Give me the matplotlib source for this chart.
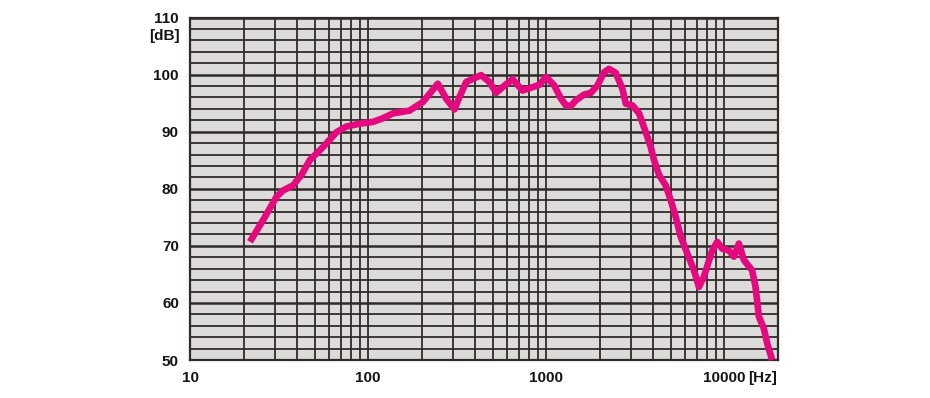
import matplotlib
matplotlib.use("Agg")
import matplotlib.pyplot as plt
from matplotlib.ticker import FixedLocator, NullFormatter, FixedFormatter

plt.rcParams['font.family'] = ['Liberation Sans', 'DejaVu Sans']

freq_hz = [21.7, 25.7, 30.6, 33.3, 37.9, 42.2, 47.0, 55.8, 66.4, 75.5, 89.6, 106, 120,
           138, 171, 203, 246, 274, 305, 326, 355, 431, 480, 523, 569, 647, 736,
           838, 914, 996, 1109, 1209, 1289, 1375, 1467, 1633, 1780, 1938, 2113,
           2253, 2456, 2676, 2795, 3047, 3321, 3620, 3861, 4029, 4300, 4684, 4995,
           5329, 5685, 6188, 6748, 7194, 7674, 8545, 9116, 9727, 10600, 11310,
           12060, 12870, 14320, 14960, 15620, 16660, 17390, 18550]
spl_db = [70.7, 74.5, 78.6, 79.7, 80.6, 82.4, 85.0, 87.3, 89.9, 90.9, 91.4, 91.7, 92.3,
          93.2, 93.7, 95.2, 98.4, 95.8, 93.9, 96.1, 98.7, 99.9, 98.7, 96.8, 97.8,
          99.2, 97.2, 97.8, 98.2, 99.6, 98.1, 95.8, 94.6, 94.5, 95.5, 96.5, 96.8,
          98.1, 100.4, 101.0, 100.3, 97.5, 94.9, 94.6, 93.2, 89.9, 87.3, 85.0, 82.4,
          80.6, 78.0, 75.1, 71.6, 68.7, 65.7, 62.8, 64.6, 69.2, 70.7, 69.5, 69.2,
          68.1, 70.4, 67.5, 65.7, 62.8, 57.6, 55.5, 52.9, 50.0]

x_major = [10, 100, 1000, 10000]
x_major_labels = ["10", "100", "1000", "10000"]
y_major = [50, 60, 70, 80, 90, 100, 110]

FS = 11
TXT = dict(fontsize=FS, color='#151515', fontweight='bold')

fig = plt.figure(figsize=(9.3, 3.98), dpi=100)
ax = fig.add_axes([190/930, 1 - 360/398, (778-190)/930, (360-17.5)/398])
ax.set_facecolor('#dddbd9')
ax.set_xscale('log')
ax.set_xlim(10, 20000)
ax.set_ylim(50, 110)

minors = [m * 10**e for e in range(1, 5) for m in range(2, 10) if m * 10**e < 20000]
for xv in minors + x_major:
    ax.axvline(xv, color='#2f2b29', lw=1.3, zorder=1)
for yv in range(50, 111, 2):
    ax.axhline(yv, color='#2f2b29', lw=1.8 if yv % 10 == 0 else 1.3, zorder=1)

ax.plot(freq_hz, spl_db, color='#e5097f', lw=4.8, solid_capstyle='butt',
        solid_joinstyle='round', zorder=3, clip_on=False)

ax.xaxis.set_major_locator(FixedLocator(x_major))
ax.xaxis.set_major_formatter(FixedFormatter(x_major_labels))
ax.xaxis.set_minor_locator(FixedLocator(minors))
ax.xaxis.set_minor_formatter(NullFormatter())
ax.set_yticks(y_major)
ax.set_yticklabels([str(v) for v in y_major])
ax.tick_params(axis='both', which='both', length=0, labelsize=FS, colors='#151515')
ax.tick_params(axis='y', pad=8)
ax.tick_params(axis='x', pad=8)
for lab in ax.get_xticklabels() + ax.get_yticklabels():
    lab.set_fontweight('bold')

for s in ax.spines.values():
    s.set_color('#2f2b29')
    s.set_linewidth(1.6)

ax.text(-10/588, (110 - 3.3 - 50) / 60, "[dB]", transform=ax.transAxes,
        ha='right', va='center', **TXT)
ax.annotate("[Hz]", xy=(10000, 0), xycoords=('data', 'axes fraction'),
            xytext=(17, -8), textcoords='offset points', ha='left', va='top', **TXT)

fig.savefig("out.png", dpi=100)
